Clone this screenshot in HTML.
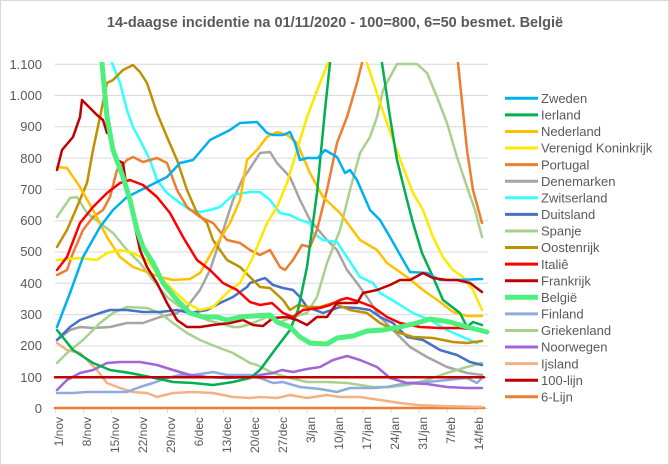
<!DOCTYPE html>
<html><head><meta charset="utf-8"><style>
body{margin:0;background:#fff}
svg{display:block;font-family:"Liberation Sans",Arial,sans-serif}
</style></head><body>
<svg width="669" height="465" viewBox="0 0 669 465" xmlns="http://www.w3.org/2000/svg">
<rect width="669" height="465" fill="#fff"/>
<rect x="0.5" y="0.5" width="668" height="464" fill="none" stroke="#d9d9d9"/>
<text x="335" y="27" text-anchor="middle" font-size="14.5" font-weight="bold" fill="#595959">14-daagse incidentie na 01/11/2020 - 100=800, 6=50 besmet. België</text>
<g stroke="#d9d9d9" stroke-width="1">
<line x1="55" x2="488" y1="64.2" y2="64.2"/><line x1="55" x2="488" y1="95.5" y2="95.5"/><line x1="55" x2="488" y1="126.8" y2="126.8"/><line x1="55" x2="488" y1="158.1" y2="158.1"/><line x1="55" x2="488" y1="189.4" y2="189.4"/><line x1="55" x2="488" y1="220.7" y2="220.7"/><line x1="55" x2="488" y1="252" y2="252"/><line x1="55" x2="488" y1="283.3" y2="283.3"/><line x1="55" x2="488" y1="314.6" y2="314.6"/><line x1="55" x2="488" y1="345.9" y2="345.9"/><line x1="55" x2="488" y1="377.2" y2="377.2"/>
<line x1="55" x2="488" y1="408.5" y2="408.5"/>
</g>
<g font-size="13" fill="#595959" text-anchor="end">
<text x="42" y="69">1.100</text><text x="42" y="100">1.000</text><text x="42" y="131">900</text><text x="42" y="163">800</text><text x="42" y="194">700</text><text x="42" y="225">600</text><text x="42" y="256">500</text><text x="42" y="288">400</text><text x="42" y="319">300</text><text x="42" y="350">200</text><text x="42" y="382">100</text><text x="42" y="413">0</text>
</g>
<g stroke="#d9d9d9"><line x1="55.7" x2="55.7" y1="408" y2="413"/><line x1="83.6" x2="83.6" y1="408" y2="413"/><line x1="111.6" x2="111.6" y1="408" y2="413"/><line x1="139.5" x2="139.5" y1="408" y2="413"/><line x1="167.5" x2="167.5" y1="408" y2="413"/><line x1="195.4" x2="195.4" y1="408" y2="413"/><line x1="223.4" x2="223.4" y1="408" y2="413"/><line x1="251.3" x2="251.3" y1="408" y2="413"/><line x1="279.3" x2="279.3" y1="408" y2="413"/><line x1="307.2" x2="307.2" y1="408" y2="413"/><line x1="335.2" x2="335.2" y1="408" y2="413"/><line x1="363.1" x2="363.1" y1="408" y2="413"/><line x1="391.1" x2="391.1" y1="408" y2="413"/><line x1="419" x2="419" y1="408" y2="413"/><line x1="447" x2="447" y1="408" y2="413"/><line x1="474.9" x2="474.9" y1="408" y2="413"/></g>
<g font-size="12" fill="#595959" text-anchor="end">
<text transform="translate(63,417) rotate(-90)">1/nov</text>
<text transform="translate(91,417) rotate(-90)">8/nov</text>
<text transform="translate(119,417) rotate(-90)">15/nov</text>
<text transform="translate(147,417) rotate(-90)">22/nov</text>
<text transform="translate(175,417) rotate(-90)">29/nov</text>
<text transform="translate(203,417) rotate(-90)">6/dec</text>
<text transform="translate(231,417) rotate(-90)">13/dec</text>
<text transform="translate(259,417) rotate(-90)">20/dec</text>
<text transform="translate(287,417) rotate(-90)">27/dec</text>
<text transform="translate(315,417) rotate(-90)">3/jan</text>
<text transform="translate(343,417) rotate(-90)">10/jan</text>
<text transform="translate(371,417) rotate(-90)">17/jan</text>
<text transform="translate(399,417) rotate(-90)">24/jan</text>
<text transform="translate(427,417) rotate(-90)">31/jan</text>
<text transform="translate(455,417) rotate(-90)">7/feb</text>
<text transform="translate(483,417) rotate(-90)">14/feb</text>
</g>
<defs><clipPath id="c"><rect x="50" y="62" width="445" height="350"/></clipPath></defs>
<g clip-path="url(#c)" fill="none" stroke-width="2.5" stroke-linejoin="round" stroke-linecap="round">
<line x1="55" x2="484" y1="408" y2="408" stroke="#ED7D31"/>
<polyline stroke="#F4B183" points="57,343 67,350 80,353 97,370 107,383 120,388 133,392 147,393 157,397 173,393 193,392 213,393 233,397 250,398 260,397 277,398 290,395 307,398 327,395 340,397 360,397 380,400 400,403 417,405 440,406 482,407"/>
<polyline stroke="#A5A5A5" points="57,340 70,330 80,327 93,328 110,327 127,323 143,323 160,317 177,313 187,307 200,290 210,270 220,240 233,200 243,178 247,173 260,153 270,152 277,163 290,177 300,200 310,220 327,240 337,250 347,270 357,283 367,297 380,317 393,330 410,347 427,357 447,367 467,373 482,375"/>
<polyline stroke="#A9D18E" points="57,363 67,353 83,340 100,323 113,313 127,307 147,308 160,313 173,323 187,333 200,340 217,347 233,353 250,363 257,365 273,373 290,378 307,382 327,382 347,383 373,387 390,387 407,385 427,380 447,373 467,367 482,363"/>
<polyline stroke="#A9D18E" points="57,217 70,198 77,197 87,213 100,223 113,233 127,250 140,263 153,280 167,297 180,307 193,313 207,320 233,327 240,327 253,323 267,317 280,322 293,317 307,313 317,297 327,263 340,230 350,190 360,153 370,137 377,117 383,90 397,64 417,64 427,73 437,97 447,123 457,157 467,187 475,210 482,237"/>
<polyline stroke="#8FAADC" points="57,393 73,393 87,392 107,392 127,392 140,387 153,383 167,378 180,375 193,375 207,373 213,372 227,375 250,375 260,378 273,383 283,382 300,387 320,389 337,392 350,388 373,388 387,387 407,383 427,382 447,380 467,378 477,383 482,378"/>
<polyline stroke="#A066D3" points="57,390 67,380 80,373 93,370 107,363 120,362 140,362 157,365 173,370 190,375 207,377 227,378 250,377 260,375 273,373 282,370 293,372 307,369 320,367 333,360 347,356 360,360 377,367 390,378 407,383 427,384 447,387 467,388 482,388"/>
<polyline stroke="#4472C4" points="57,340 70,327 80,320 100,313 110,310 127,310 143,312 160,312 177,310 190,313 207,310 220,303 233,297 247,287 250,283 265,278 273,285 283,288 293,290 300,297 307,307 323,313 340,307 357,308 370,310 380,317 393,323 407,337 423,340 440,350 457,355 470,362 482,365"/>
<polyline stroke="#33FFFF" points="112,63 120,83 127,110 133,127 140,140 150,160 157,180 167,193 180,203 190,210 200,212 210,210 220,207 233,195 250,192 260,192 270,200 280,213 290,215 300,220 310,223 313,233 323,240 337,242 347,257 360,277 373,283 380,293 397,303 413,313 430,320 447,330 463,337 477,343"/>
<polyline stroke="#BF9000" points="57,247 67,230 77,207 87,183 93,150 100,117 107,83 113,80 123,70 133,65 140,72 147,83 157,113 167,137 177,160 187,190 197,213 207,223 213,240 227,260 240,267 250,277 260,287 270,288 283,300 290,310 298,305 307,307 320,307 333,303 350,310 367,313 380,323 400,333 413,337 433,338 453,342 467,343 482,341"/>
<polyline stroke="#ED7D31" points="57,275 67,270 73,253 83,230 93,217 103,210 110,197 117,170 127,160 133,157 143,162 157,158 167,163 177,190 187,207 200,217 213,223 227,240 240,243 250,250 260,255 270,250 280,267 285,270 293,260 302,245 310,247 317,230 327,190 337,143 347,117 357,83 362,63"/>
<polyline stroke="#ED7D31" points="458,63 467,150 473,190 482,223"/>
<polyline stroke="#FFC000" points="57,167 67,168 80,187 93,210 107,237 120,257 133,267 147,272 160,277 173,280 190,279 200,273 213,250 230,223 240,200 247,160 257,150 267,137 277,132 287,135 297,143 310,173 323,197 340,213 360,240 377,250 387,263 407,277 423,290 440,302 453,312 467,316 482,316"/>
<polyline stroke="#FFE800" points="57,260 80,258 97,260 107,253 120,250 133,253 147,260 160,277 173,290 187,303 200,310 213,307 230,290 240,283 253,257 267,223 277,207 287,183 297,150 307,117 320,83 328,63"/>
<polyline stroke="#FFE800" points="367,63 380,103 393,140 403,167 413,193 423,210 433,237 443,257 453,270 463,277 473,290 482,310"/>
<polyline stroke="#00B050" points="57,330 73,350 93,363 110,370 130,373 150,377 173,382 193,383 213,385 233,382 250,378 260,370 277,347 290,330 298,310 307,267 317,193 325,110 330,63"/>
<polyline stroke="#00B050" points="382,63 390,117 397,160 407,200 413,223 422,253 433,277 443,300 460,313 467,327 473,322 482,325"/>
<polyline stroke="#00B0F0" points="57,327 70,293 83,257 100,227 113,210 127,197 147,187 167,177 180,163 193,160 210,140 230,130 240,123 257,122 267,133 273,135 283,135 290,132 295,143 300,160 307,158 318,158 325,150 337,157 345,173 350,170 357,180 370,210 380,220 390,237 403,260 410,272 427,273 440,280 457,280 482,279"/>
<polyline stroke="#FF0000" points="57,270 67,257 80,223 93,207 107,193 120,183 130,180 143,185 157,197 170,213 183,237 197,260 210,270 223,283 237,290 250,302 260,305 272,303 283,313 293,317 303,310 320,308 330,305 340,300 347,298 360,302 373,307 387,317 400,323 420,327 440,328 460,328 482,330"/>
<polyline stroke="#C00000" points="57,170 62,150 73,137 80,117 82,100 90,108 97,115 103,120 107,133"/>
<polyline stroke="#C00000" points="117,160 123,163 127,190 133,217 140,250 147,267 157,283 167,303 177,320 187,327 200,327 213,325 230,323 243,320 253,325 263,326 273,318 287,317 297,320 307,325 317,317 327,317 337,303 357,303 363,293 377,290 390,285 400,280 410,280 423,273 433,278 447,280 457,280 470,283 482,292"/>
<line x1="55" x2="484" y1="377.2" y2="377.2" stroke="#C00000"/>
<polyline stroke="#4DF07E" stroke-width="5" points="102,63 107,117 113,150 123,177 130,200 137,230 143,247 153,263 163,283 177,300 190,313 203,317 217,317 227,320 240,317 253,316 270,315 277,322 290,327 300,337 310,343 327,344 337,338 353,336 367,331 383,330 400,327 417,323 430,319 450,322 467,327 487,332"/>
</g>
<g stroke-width="3">
<line x1="505" x2="538" y1="98.3" y2="98.3" stroke="#00B0F0"/>
<line x1="505" x2="538" y1="114.9" y2="114.9" stroke="#00B050"/>
<line x1="505" x2="538" y1="131.5" y2="131.5" stroke="#FFC000"/>
<line x1="505" x2="538" y1="148" y2="148" stroke="#FFE800"/>
<line x1="505" x2="538" y1="164.6" y2="164.6" stroke="#ED7D31"/>
<line x1="505" x2="538" y1="181.2" y2="181.2" stroke="#A5A5A5"/>
<line x1="505" x2="538" y1="197.8" y2="197.8" stroke="#33FFFF"/>
<line x1="505" x2="538" y1="214.4" y2="214.4" stroke="#4472C4"/>
<line x1="505" x2="538" y1="231" y2="231" stroke="#A9D18E"/>
<line x1="505" x2="538" y1="247.5" y2="247.5" stroke="#BF9000"/>
<line x1="505" x2="538" y1="264.1" y2="264.1" stroke="#FF0000"/>
<line x1="505" x2="538" y1="280.7" y2="280.7" stroke="#C00000"/>
<line x1="505" x2="538" y1="297.3" y2="297.3" stroke="#4DF07E" stroke-width="5"/>
<line x1="505" x2="538" y1="313.9" y2="313.9" stroke="#8FAADC"/>
<line x1="505" x2="538" y1="330.5" y2="330.5" stroke="#A9D18E"/>
<line x1="505" x2="538" y1="347" y2="347" stroke="#A066D3"/>
<line x1="505" x2="538" y1="363.6" y2="363.6" stroke="#F4B183"/>
<line x1="505" x2="538" y1="380.2" y2="380.2" stroke="#C00000"/>
<line x1="505" x2="538" y1="396.8" y2="396.8" stroke="#ED7D31"/>
</g>
<g font-size="13" fill="#595959">
<text x="541" y="103">Zweden</text><text x="541" y="119.6">Ierland</text><text x="541" y="136.2">Nederland</text><text x="541" y="152.7">Verenigd Koninkrijk</text><text x="541" y="169.3">Portugal</text><text x="541" y="185.9">Denemarken</text><text x="541" y="202.5">Zwitserland</text><text x="541" y="219.1">Duitsland</text><text x="541" y="235.7">Spanje</text><text x="541" y="252.2">Oostenrijk</text><text x="541" y="268.8">Italiê</text><text x="541" y="285.4">Frankrijk</text><text x="541" y="302">België</text><text x="541" y="318.6">Finland</text><text x="541" y="335.2">Griekenland</text><text x="541" y="351.7">Noorwegen</text><text x="541" y="368.3">Ijsland</text><text x="541" y="384.9">100-lijn</text><text x="541" y="401.5">6-Lijn</text>
</g>
</svg>
</body></html>
